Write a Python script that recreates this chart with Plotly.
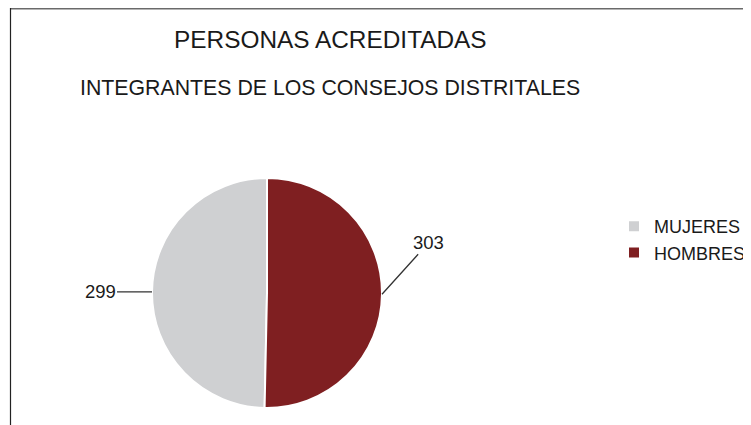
import math
import plotly.graph_objects as go

labels = ["MUJERES", "HOMBRES"]
values = [299, 303]
colors = ["#cfd0d2", "#7f1f21"]
title_text = "PERSONAS ACREDITADAS"
subtitle_text = "INTEGRANTES DE LOS CONSEJOS DISTRITALES"

# figure is placed by the page with an 8px body margin
W, H = 743, 417
cx, cy, r = 259, 285, 115  # pie centre / radius in figure pixels (layout)

total = sum(values)
# MUJERES ends at 12 o'clock (left half), HOMBRES starts there going clockwise
start_rot = -360.0 * values[0] / total

fig = go.Figure()
fig.add_trace(go.Pie(
    labels=labels, values=values, sort=False, direction="clockwise",
    rotation=start_rot, marker=dict(colors=colors, line=dict(color="white", width=2)),
    textinfo="none", hoverinfo="label+value",
    domain=dict(x=[(cx - r) / W, (cx + r) / W], y=[(H - cy - r) / H, (H - cy + r) / H]),
))

# leader-line labels at slice midpoints
offsets = {"MUJERES": (-52, 0), "HOMBRES": (47, -52)}
sides = {"MUJERES": -1, "HOMBRES": 1}
for lab, v in zip(labels, values):
    mid = (v / 2) / total * 2 * math.pi
    px = cx + sides[lab] * r * math.sin(mid)
    py = cy - r * math.cos(mid)
    ax, ay = offsets[lab]
    fig.add_annotation(x=px / W, y=(H - py) / H, xref="paper", yref="paper",
                       text=str(v), showarrow=True, arrowhead=0, arrowwidth=1.3,
                       arrowcolor="#333333", ax=ax, ay=ay, standoff=0,
                       font=dict(size=18.5, color="#1a1a1a"))

fig.add_annotation(x=322 / W, y=(H - 32) / H, xref="paper", yref="paper",
                   xanchor="center", yanchor="middle",
                   text=title_text, showarrow=False,
                   font=dict(size=24.4, color="#1a1a1a"))
fig.add_annotation(x=322 / W, y=(H - 80) / H, xref="paper", yref="paper",
                   xanchor="center", yanchor="middle",
                   text=subtitle_text, showarrow=False,
                   font=dict(size=21.3, color="#1a1a1a"))

# frame lines
fig.add_shape(type="line", xref="paper", yref="paper", x0=2 / W, x1=1, y0=(H - 0.8) / H, y1=(H - 0.8) / H,
              line=dict(color="#6a6a6a", width=1.6))
fig.add_shape(type="line", xref="paper", yref="paper", x0=2.5 / W, x1=2.5 / W, y0=0, y1=1,
              line=dict(color="#222222", width=1.2))

fig.update_layout(
    width=W, height=H, margin=dict(l=0, r=0, t=0, b=0),
    paper_bgcolor="white", plot_bgcolor="white",
    font=dict(family="Liberation Sans, Arial, sans-serif", color="#1a1a1a"),
    showlegend=True,
    legend=dict(x=606 / W, y=(H - 200) / H, xanchor="left", yanchor="top",
                font=dict(size=18, color="#1a1a1a"), itemwidth=30,
                bgcolor="rgba(0,0,0,0)"),
)

fig.write_html("out.html")
